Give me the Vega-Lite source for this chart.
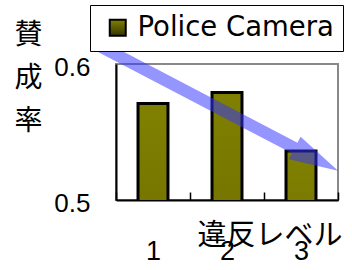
{
  "$schema": "https://vega.github.io/schema/vega-lite/v6.json",
  "width": 222,
  "height": 136,
  "autosize": {"type": "none"},
  "padding": {"left": 116, "top": 64, "right": 14, "bottom": 70},
  "background": "white",
  "config": {"view": {"stroke": "#888888", "strokeWidth": 2}},
  "datasets": {
    "bars": [
      {"level": "1", "rate": 0.571},
      {"level": "2", "rate": 0.579},
      {"level": "3", "rate": 0.536}
    ],
    "arrow": [{"pos": 1.872, "rate": 0.5679}]
  },
  "layer": [
    {
      "data": {"name": "bars"},
      "mark": {"type": "bar", "strokeWidth": 3, "width": {"band": 0.405}, "clip": true,
        "fill": {"gradient": "linear", "x1": 0, "y1": 0, "x2": 0, "y2": 1,
          "stops": [{"offset": 0, "color": "#808000"}, {"offset": 1, "color": "#363600"}]}},
      "encoding": {
        "x": {
          "field": "level", "type": "ordinal",
          "scale": {"paddingInner": 0, "paddingOuter": 0},
          "axis": {
            "title": "違反レベル", "titleFont": "Noto Sans CJK JP", "titleFontSize": 29, "titleFontWeight": "normal",
            "titleColor": "black", "titleAnchor": "end", "titleAlign": "right", "titleX": 226, "titleBaseline": "middle", "titleY": 35,
            "labelAngle": 0, "labelFont": "Liberation Sans", "labelFontSize": 27, "labelColor": "black",
            "labelPadding": 46, "tickBand": "extent", "tickSize": -8, "tickColor": "black", "tickWidth": 1.5,
            "domainColor": "black", "domainWidth": 2
          }
        },
        "y": {
          "field": "rate", "type": "quantitative",
          "scale": {"domain": [0.5, 0.6], "zero": false, "nice": false},
          "axis": {
            "title": ["賛", "成", "率"], "titleAngle": 0, "titleFont": "Noto Sans CJK JP", "titleFontSize": 28,
            "titleFontWeight": "normal", "titleColor": "black", "titleLineHeight": 43, "titleAlign": "center",
            "titleBaseline": "middle", "titleX": -88, "titleY": -29, "format": ".1f",
            "values": [0.5, 0.6], "ticks": false, "labelFont": "Liberation Sans", "labelFontSize": 26,
            "labelColor": "black", "labelPadding": 26, "labelOffset": 3, "labelFlush": false,
            "domainColor": "black", "domainWidth": 2, "grid": false
          }
        },
        "stroke": {
          "datum": "Police Camera", "type": "nominal",
          "scale": {"range": ["black"]},
          "legend": {
            "orient": "none", "legendX": -26, "legendY": -59, "title": null, "padding": 9,
            "strokeColor": "black", "fillColor": "white", "labelFont": "DejaVu Sans", "labelFontSize": 27.5,
            "labelColor": "black", "labelLimit": 400, "symbolType": "square", "symbolSize": 256, "symbolFillColor": "#5e5e00",
            "symbolStrokeWidth": 2, "symbolOffset": 5, "labelOffset": 6
          }
        }
      }
    },
    {
      "data": {"name": "arrow"},
      "mark": {
        "type": "point", "shape": "M-1,-0.044L0.64,-0.044L0.64,-0.094L1,0L0.64,0.094L0.64,0.044L-1,0.044Z",
        "size": 73984, "angle": 27.6, "filled": true, "fill": "#3333ff", "opacity": 0.52, "strokeWidth": 0, "clip": false
      },
      "encoding": {
        "x": {"field": "pos", "type": "quantitative", "scale": {"domain": [0.5, 3.5], "nice": false, "zero": false}, "axis": null},
        "y": {"field": "rate", "type": "quantitative"}
      }
    }
  ],
  "resolve": {"scale": {"x": "independent"}}
}
